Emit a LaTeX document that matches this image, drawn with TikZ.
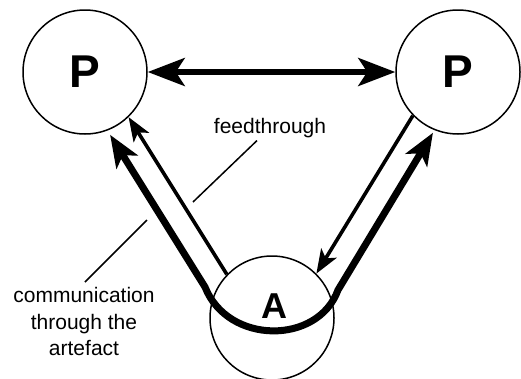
\documentclass[tikz,border=0pt]{standalone}
\usepackage{fontspec}
\setmainfont{Liberation Sans}
\usetikzlibrary{arrows.meta}
\begin{document}
\begin{tikzpicture}[x=1pt,y=-1pt,line join=round,
  circ/.style={draw,circle,line width=1.5pt,minimum size=124pt,inner sep=0pt},
  bigtip/.tip={Stealth[length=37pt,width=28pt,inset=9pt]},
  midtip/.tip={Stealth[length=32pt,width=25pt,inset=8pt]},
  smalltip/.tip={Stealth[length=24pt,width=18pt,inset=6pt]},
  lbl/.style={font=\fontsize{21}{26.7}\selectfont,align=center,inner sep=0pt}]
\useasboundingbox (0,0) rectangle (521,378);
\node[circ,font=\fontsize{46}{46}\selectfont\bfseries] (pl) at (85,72) {P};
\node[circ,font=\fontsize{46}{46}\selectfont\bfseries] (pr) at (458,72) {P};
\node[circ] (pa) at (272,318) {};
\node[font=\fontsize{36}{36}\selectfont\bfseries] (la) at (274,306) {A};
\node[lbl,anchor=base] (feed) at (270,133) {feedthrough};
\node[lbl,anchor=north] (comm) at (84,287) {communication\\through the\\artefact};
\coordinate (jl) at (205,287);
\coordinate (jr) at (338,290);
\coordinate (fe) at (193,202);
\coordinate (ce) at (147,220);
% person to person
\draw[line width=5.5pt,bigtip-bigtip] (pl) -- (pr);
% through the artefact
\draw[line width=7pt,midtip-midtip,shorten <=5pt,shorten >=3pt]
  (pl.-69) -- (jl) .. controls (228,345) and (318,345) .. (jr) -- (pr.-112);
% feedthrough
\draw[line width=3.6pt,-smalltip] (pa.136) -- (pl.-46);
\draw[line width=3.6pt,-smalltip] (pr.-136) -- (pa.45);
\draw[line width=1.5pt] ([shift={(-13,3)}]feed.south) -- (fe);
\draw[line width=1.5pt] ([shift={(1,-5)}]comm.north) -- (ce);
\end{tikzpicture}
\end{document}
